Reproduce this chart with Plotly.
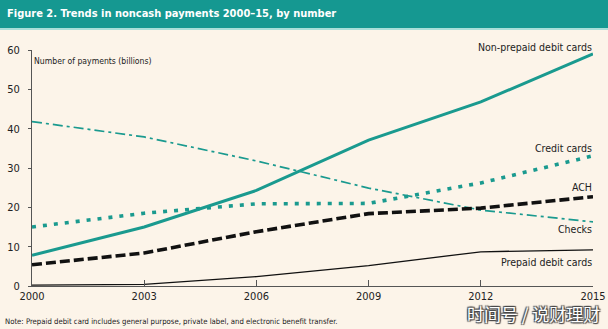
import plotly.graph_objects as go

years = [2000, 2003, 2006, 2009, 2012, 2015]
non_prepaid_debit = [7.8, 15.0, 24.3, 37.1, 46.8, 59.0]
credit_cards = [15.0, 18.5, 20.9, 21.0, 26.2, 33.1]
checks = [41.8, 37.9, 31.8, 24.9, 19.3, 16.3]
ach = [5.4, 8.4, 13.8, 18.4, 19.8, 22.7]
prepaid_debit = [0.2, 0.4, 2.4, 5.2, 8.7, 9.2]

series_labels = ["Non-prepaid debit cards", "Credit cards", "ACH", "Checks", "Prepaid debit cards"]
y_ticks = [0, 10, 20, 30, 40, 50, 60]
x_ticks = [2000, 2003, 2006, 2009, 2012, 2015]

TITLE = "Figure 2. Trends in noncash payments 2000\u201315, by number"
YLABEL = "Number of payments (billions)"
NOTE = "Note: Prepaid debit card includes general purpose, private label, and electronic benefit transfer."
WATERMARK = "\u65f6\u95f4\u53f7 / \u8bf4\u8d22\u7406\u8d22"

W, H = 608, 329
L, R, T, B = 32, 15, 50, 43
PW, PH = W - L - R, H - T - B

def px(x):
    return (x - L) / PW

def py(y):
    return (H - B - y) / PH

TEAL = "#159891"
LINE_TEAL = "#1a9a8f"
BG = "#fcf4e9"
NARROW = "Liberation Sans Narrow, Arial Narrow, DejaVu Sans Condensed, sans-serif"

def f(size, color="#222222"):
    return dict(family=NARROW, size=size, color=color)

fig = go.Figure()
fig.add_trace(go.Scatter(x=years, y=checks, mode="lines",
                         line=dict(color=LINE_TEAL, width=1.7, dash="10px,4px,3px,4px"), cliponaxis=False))
fig.add_trace(go.Scatter(x=years, y=credit_cards, mode="lines",
                         line=dict(color=LINE_TEAL, width=3.6, dash="4px,7px"), cliponaxis=False))
fig.add_trace(go.Scatter(x=years, y=prepaid_debit, mode="lines",
                         line=dict(color="#111111", width=1.3), cliponaxis=False))
fig.add_trace(go.Scatter(x=years, y=ach, mode="lines",
                         line=dict(color="#111111", width=3.6, dash="10px,4px"), cliponaxis=False))
fig.add_trace(go.Scatter(x=years, y=non_prepaid_debit, mode="lines",
                         line=dict(color=LINE_TEAL, width=3), cliponaxis=False))

label_pos = [(594, 47), (594, 148), (594, 187), (594, 229), (594, 262)]
annotations = []
for text, (lx, ly) in zip(series_labels, label_pos):
    annotations.append(dict(text=text, x=px(lx), y=py(ly), xref="paper", yref="paper",
                            xanchor="right", yanchor="middle", showarrow=False, font=f(10.5)))

annotations.append(dict(text="<b>" + TITLE + "</b>", x=px(5), y=py(14), xref="paper", yref="paper",
                        xanchor="left", yanchor="middle", showarrow=False,
                        font=f(11, "white")))
annotations.append(dict(text=YLABEL, x=px(32), y=py(61), xref="paper", yref="paper",
                        xanchor="left", yanchor="middle", showarrow=False, font=f(8.6)))
annotations.append(dict(text=NOTE, x=px(3), y=py(321), xref="paper", yref="paper",
                        xanchor="left", yanchor="middle", showarrow=False, font=f(7.7)))
annotations.append(dict(text=WATERMARK, x=px(602), y=py(313), xref="paper", yref="paper",
                        xanchor="right", yanchor="middle", showarrow=False,
                        font=dict(family="Noto Sans CJK SC", size=17, color="white",
                                  shadow="1px 1px 1px #444, -1px -1px 1px #444, 1px -1px 1px #444, -1px 1px 1px #444")))

shapes = [
    dict(type="rect", xref="paper", yref="paper", x0=px(-5), x1=px(W + 5), y0=py(28), y1=py(-5),
         fillcolor=TEAL, line=dict(width=0), layer="below"),
    dict(type="rect", xref="paper", yref="paper", x0=px(-5), x1=px(W + 5), y0=py(30), y1=py(28),
         fillcolor="#a9dfd9", line=dict(width=0), layer="below"),
]

fig.update_layout(
    template="none",
    width=W, height=H,
    margin=dict(l=L, r=R, t=T, b=B),
    paper_bgcolor=BG, plot_bgcolor=BG,
    showlegend=False,
    annotations=annotations,
    shapes=shapes,
    xaxis=dict(range=[2000, 2015], tickvals=x_ticks, ticktext=[str(v) for v in x_ticks],
               automargin=False,
               showgrid=False, zeroline=False, showline=True, linecolor="#555555", linewidth=1,
               ticks="inside", ticklen=6, tickcolor="#555555", tickfont=f(11)),
    yaxis=dict(range=[0, 60], tickvals=y_ticks, showgrid=False, zeroline=False,
               automargin=False,
               showline=True, linecolor="#555555", linewidth=1,
               ticks="outside", ticklen=3, tickcolor="#555555", ticklabelstandoff=6,
               tickfont=f(11)),
)

fig.write_html("out.html")
